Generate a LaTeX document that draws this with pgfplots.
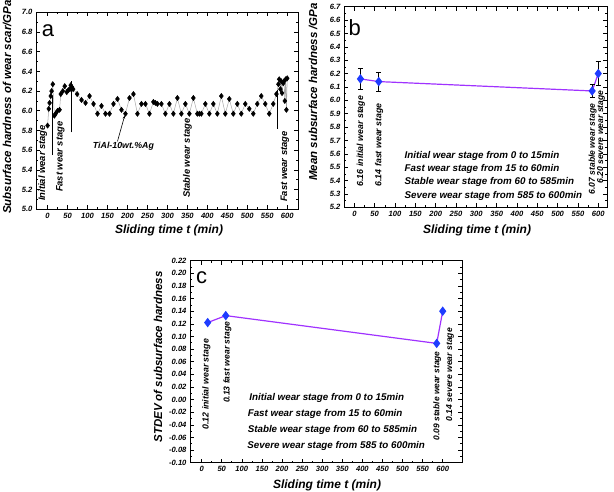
\documentclass[border=0pt]{standalone}
\usepackage{fontspec}
\setmainfont{Liberation Sans}
\usepackage{pgfplots}
\pgfplotsset{compat=1.18}
\usetikzlibrary{arrows.meta}
\definecolor{myblue}{RGB}{30,60,255}
\definecolor{myviolet}{RGB}{160,50,255}
\newcommand{\bi}[1]{\fontsize{#1}{#1}\selectfont\bfseries\itshape}
\pgfplotsset{mystyle/.style={
  scale only axis, anchor=north west,
  axis line style={line width=0.9pt},
  tick align=inside,
  tick style={black, line width=0.6pt},
  major tick length=4pt, minor tick length=2pt,
  minor x tick num=1, minor y tick num=1,
  tick label style={font=\bi{7.6}},
  /pgf/number format/assume math mode=true,
  xtick={0,50,...,600},
  x tick label style={/pgf/number format/fixed},
  clip=false,
}}
\begin{document}
\begin{tikzpicture}
\useasboundingbox (0,0) rectangle (614pt,-492pt);
% ---------------- panel a
\begin{axis}[mystyle, name=A, at={(36pt,-12.3pt)}, width=262pt, height=197pt,
  xmin=-29, xmax=627, ymin=5.0, ymax=7.0,
  ytick={5.0,5.2,...,7.01},
  y tick label style={/pgf/number format/.cd, fixed, fixed zerofill, precision=1}]
\addplot[gray!70, line width=0.5pt, mark=diamond*, mark size=2.6pt,
  mark options={black, fill=black}] coordinates {
(0,5.85)(3,6.02)(5,6.08)(8,6.15)(10,6.20)(13,6.27)(17,5.95)(20,5.97)(25,6.00)(30,6.01)
(33,6.17)(38,6.20)(43,6.25)(48,6.19)(52,6.21)(56,6.22)(58,6.26)(61,6.24)(64,6.22)
(74,6.17)(85,6.11)(95,6.08)(105,6.15)(115,6.07)(125,5.97)(135,6.05)(145,5.97)(155,5.97)
(165,6.07)(175,6.12)(185,6.01)(195,5.97)(205,6.13)(215,6.17)(225,5.97)(235,6.07)(245,6.07)
(255,5.97)(265,6.09)(270,6.08)(275,6.07)(285,6.07)(295,5.97)(305,6.07)(315,5.97)(325,6.13)
(335,5.97)(345,6.07)(355,5.97)(365,6.13)(375,5.97)(380,5.97)(385,5.97)(395,6.07)(405,5.97)
(415,6.07)(425,5.97)(435,6.15)(445,5.97)(455,6.12)(465,5.97)(475,6.07)(485,5.97)(495,6.07)
(505,6.02)(515,5.97)(525,6.07)(535,6.15)(545,6.07)(555,5.97)(565,6.07)(573,6.17)(578,6.27)
(580,6.32)(583,6.22)(585,6.30)(587,6.18)(590,6.28)(592,6.30)(594,6.10)(596,6.32)(598,6.01)(600,6.33)};
\addplot[black, line width=1.3pt] coordinates {(12,5.55)(12,6.15)};
\addplot[black, line width=1.3pt] coordinates {(60,5.78)(60,6.30)};
\addplot[black, line width=1.3pt] coordinates {(575,5.82)(575,6.21)};
\node[rotate=90, anchor=west, font=\bi{9.4}] at (axis cs:-12,5.05) {Initial wear stage};
\node[rotate=90, anchor=west, font=\bi{9.4}] at (axis cs:32,5.14) {Fast wear stage};
\node[rotate=90, anchor=west, font=\bi{9.4}] at (axis cs:350,5.08) {Stable wear stage};
\node[rotate=90, anchor=west, font=\bi{9.4}] at (axis cs:594,5.04) {Fast wear stage};
\node[font=\bi{8.8}] at (axis cs:190,5.64) {TiAl-10wt.\%Ag};
\draw[line width=0.6pt, -{Stealth[length=3pt,width=2.5pt]}] (axis cs:175,5.69) -- (axis cs:193,5.95);
\node[font=\fontsize{22}{22}\selectfont] at (axis cs:1,6.815) {a};
\end{axis}
\node[rotate=90, font=\bi{11.5}] at (7pt,-107pt) {Subsurface hardness of wear scar/GPa};
\node[font=\bi{12}] at (169pt,-230.7pt) {Sliding time t (min)};
% ---------------- panel b
\begin{axis}[mystyle, name=B, at={(344pt,-6.7pt)}, width=263pt, height=200.6pt,
  xmin=-25.5, xmax=621.5, ymin=5.2, ymax=6.7,
  ytick={5.2,5.3,...,6.71},
  y tick label style={/pgf/number format/.cd, fixed, fixed zerofill, precision=1}]
\addplot[myviolet, line width=1.2pt, mark=diamond*, mark size=3.8pt,
  mark options={myblue, fill=myblue},
  error bars/.cd, y dir=both, y explicit,
  error bar style={black, line width=0.7pt},
  error mark options={black, rotate=90, mark size=2.6pt, line width=0.7pt}]
  coordinates {(15,6.16) +- (0,0.08) (60,6.14) +- (0,0.07) (585,6.07) +- (0,0.05) (600,6.20) +- (0,0.09)};
\node[rotate=90, anchor=west, font=\bi{8.8}] at (axis cs:16,5.33) {6.16 initial wear stage};
\node[rotate=90, anchor=west, font=\bi{8.8}] at (axis cs:61,5.33) {6.14 fast wear stage};
\node[rotate=90, anchor=west, font=\bi{8.6}] at (axis cs:586,5.27) {6.07 stable wear stage};
\node[rotate=90, anchor=west, font=\bi{8.6}] at (axis cs:607,5.35) {6.20 severe wear stage};
\node[anchor=west, font=\bi{9.8}] at (axis cs:115,5.586) {Initial wear stage from 0 to 15min};
\node[anchor=west, font=\bi{9.8}] at (axis cs:115,5.487) {Fast wear stage from 15 to 60min};
\node[anchor=west, font=\bi{9.8}] at (axis cs:115,5.387) {Stable wear stage from 60 to 585min};
\node[anchor=west, font=\bi{9.8}] at (axis cs:115,5.287) {Severe wear stage from 585 to 600min};
\node[font=\fontsize{22}{22}\selectfont] at (axis cs:1,6.54) {b};
\end{axis}
\node[rotate=90, font=\bi{11.5}] at (313pt,-92pt) {Mean subsurface hardness /GPa};
\node[font=\bi{12}] at (477pt,-230pt) {Sliding time t (min)};
% ---------------- panel c
\begin{axis}[mystyle, name=C, at={(190pt,-260.7pt)}, width=272pt, height=202pt,
  xmin=-29, xmax=648, ymin=-0.10, ymax=0.22,
  ytick={-0.10,-0.08,...,0.221},
  y tick label style={/pgf/number format/.cd, fixed, fixed zerofill, precision=2}]
\addplot[myviolet, line width=1.2pt, mark=diamond*, mark size=3.8pt,
  mark options={myblue, fill=myblue}]
  coordinates {(15,0.122)(60,0.133)(585,0.089)(600,0.140)};
\node[rotate=90, anchor=west, font=\bi{8.8}] at (axis cs:12,-0.053) {0.12 initial wear stage};
\node[rotate=90, anchor=west, font=\bi{8.6}] at (axis cs:64,-0.011) {0.13 fast wear stage};
\node[rotate=90, anchor=west, font=\bi{8.4}] at (axis cs:586,-0.070) {0.09 stable wear stage};
\node[rotate=90, anchor=west, font=\bi{8.6}] at (axis cs:618,-0.040) {0.14 severe wear stage};
\node[anchor=west, font=\bi{9.8}] at (axis cs:110,0.002) {Initial wear stage from 0 to 15min};
\node[anchor=west, font=\bi{9.8}] at (axis cs:106,-0.023) {Fast wear stage from 15 to 60min};
\node[anchor=west, font=\bi{9.8}] at (axis cs:106,-0.048) {Stable wear stage from 60 to 585min};
\node[anchor=west, font=\bi{9.8}] at (axis cs:105,-0.073) {Severe wear stage from 585 to 600min};
\node[font=\fontsize{22}{22}\selectfont] at (axis cs:0,0.193) {c};
\end{axis}
\node[rotate=90, font=\bi{11.5}] at (158pt,-357pt) {STDEV of subsurface hardness};
\node[font=\bi{12}] at (327pt,-485pt) {Sliding time t (min)};
\end{tikzpicture}
\end{document}
